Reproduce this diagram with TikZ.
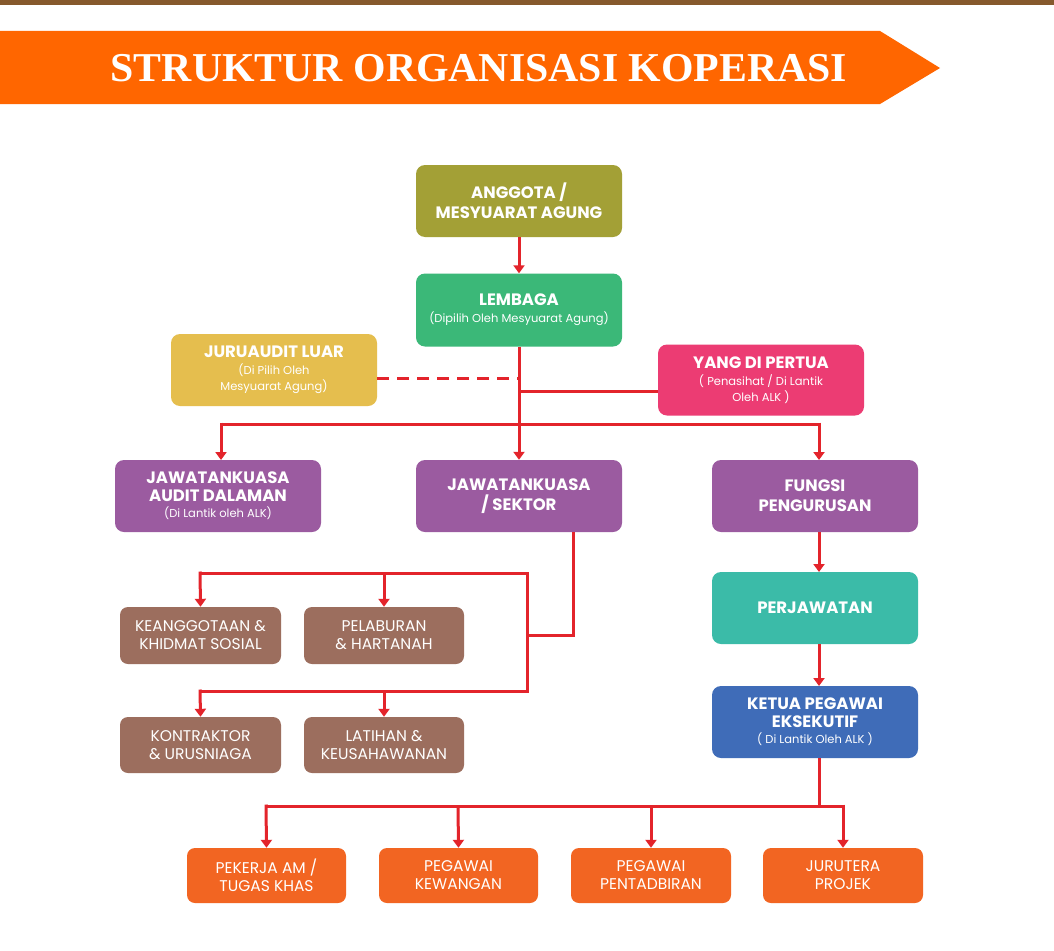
\documentclass[tikz,border=0pt]{standalone}
\usepackage{fontspec}
\setmainfont{Poppins}
\newfontfamily\titlefont{Liberation Serif}
\usetikzlibrary{arrows.meta}
\definecolor{lred}{HTML}{E3242B}
\definecolor{olive}{HTML}{A3A036}
\definecolor{cgreen}{HTML}{3BB878}
\definecolor{cyellow}{HTML}{E5BE4E}
\definecolor{cpink}{HTML}{EC3C73}
\definecolor{cpurple}{HTML}{9B5BA0}
\definecolor{cteal}{HTML}{3BBBA8}
\definecolor{cblue}{HTML}{3F6CB8}
\definecolor{cbrown}{HTML}{9C6E5E}
\definecolor{corange}{HTML}{F26522}
\definecolor{banner}{HTML}{FF6600}
\newcommand\sbt{\fontsize{11.5}{13}\selectfont\mdseries}
\begin{document}
\begin{tikzpicture}[x=1pt,y=-1pt,
  box/.style={rounded corners=9pt,text=white,align=center,inner sep=0pt,font=\fontsize{16.5}{20}\selectfont\bfseries},
  sbox/.style={rounded corners=8pt,text=white,align=center,inner sep=0pt,font=\fontsize{15.5}{18}\selectfont},
  ln/.style={draw=lred,line width=3pt},
  ar/.style={ln,-{Triangle[width=11pt,length=8pt]}}]
\useasboundingbox (0,0) rectangle (1054,950);
\fill[white] (0,0) rectangle (1054,950);
\fill[brown!70!black] (0,0) rectangle (1054,5);
\fill[banner] (0,31) -- (880,31) -- (940,68) -- (880,104) -- (0,104) -- cycle;
\node[text=white,font=\titlefont\bfseries\fontsize{41}{44}\selectfont,xscale=1.02] (title) at (479,68) {STRUKTUR ORGANISASI KOPERASI};
\node[box,fill=olive,minimum width=206pt,minimum height=72pt] (ang) at (519,201) {ANGGOTA /\\MESYUARAT AGUNG};
\node[box,fill=cgreen,minimum width=206pt,minimum height=73pt] (lem) at (519,310) {LEMBAGA\\[-3pt]{\sbt(Dipilih Oleh Mesyuarat Agung)}};
\node[box,fill=cyellow,minimum width=206pt,minimum height=72pt] (jur) at (274,370) {JURUAUDIT LUAR\\[-3pt]{\sbt(Di Pilih Oleh}\\[-4pt]{\sbt Mesyuarat Agung)}};
\node[box,fill=cpink,minimum width=206pt,minimum height=71pt] (ydp) at (761,380) {YANG DI PERTUA\\[-3pt]{\sbt( Penasihat / Di Lantik}\\[-4pt]{\sbt Oleh ALK )}};
\node[box,fill=cpurple,minimum width=206pt,minimum height=72pt] (jad) at (218,496) {JAWATANKUASA\\[-2pt]AUDIT DALAMAN\\[-4pt]{\sbt(Di Lantik oleh ALK)}};
\node[box,fill=cpurple,minimum width=206pt,minimum height=72pt] (sek) at (519,496) {JAWATANKUASA\\/ SEKTOR};
\node[box,fill=cpurple,minimum width=206pt,minimum height=72pt] (fun) at (815,496) {FUNGSI\\PENGURUSAN};
\node[box,fill=cteal,minimum width=206pt,minimum height=72pt] (per) at (815,608) {PERJAWATAN};
\node[box,fill=cblue,minimum width=206pt,minimum height=72pt] (ket) at (815,722) {KETUA PEGAWAI\\[-2pt]EKSEKUTIF\\[-4pt]{\sbt( Di Lantik Oleh ALK )}};
\node[sbox,fill=cbrown,minimum width=161pt,minimum height=57pt] (kea) at (200.5,635.5) {KEANGGOTAAN \&\\KHIDMAT SOSIAL};
\node[sbox,fill=cbrown,minimum width=160pt,minimum height=57pt] (pel) at (384,635.5) {PELABURAN\\\& HARTANAH};
\node[sbox,fill=cbrown,minimum width=161pt,minimum height=56pt] (kon) at (200.5,745) {KONTRAKTOR\\\& URUSNIAGA};
\node[sbox,fill=cbrown,minimum width=160pt,minimum height=56pt] (lat) at (384,745) {LATIHAN \&\\KEUSAHAWANAN};
\node[sbox,fill=corange,minimum width=159pt,minimum height=55pt] (o1) at (266.5,875.5) {PEKERJA AM /\\TUGAS KHAS};
\node[sbox,fill=corange,minimum width=159pt,minimum height=55pt] (o2) at (458.5,875.5) {PEGAWAI\\KEWANGAN};
\node[sbox,fill=corange,minimum width=160pt,minimum height=55pt] (o3) at (651,875.5) {PEGAWAI\\PENTADBIRAN};
\node[sbox,fill=corange,minimum width=160pt,minimum height=55pt] (o4) at (843,875.5) {JURUTERA\\PROJEK};
% connectors
\draw[ar] (ang) -- (lem);
\coordinate (bus) at (519,424);
\draw[ln] (lem.south) -- (bus);
\draw[ln,dash pattern=on 12pt off 8pt] (jur.east|-0,378) -- (519,378);
\draw[ln] (519,391) -- (ydp.west|-0,391);
\draw[ln] (221,424) -- (819,424);
\draw[ar] (221,422.5) -- (221,460);
\draw[ar] (bus) -- (sek.north);
\draw[ar] (819,422.5) -- (819,460);
\draw[ar] (819,532) -- (819,572);
\draw[ar] (819,644) -- (819,686);
% sector tree
\draw[ln] (573,532) -- (573,635) -- (527,635);
\draw[ln] (200,573) -- (527,573) -- (527,691) -- (200,691);
\draw[ar] (200,571.5) -- (kea.north);
\draw[ar] (384,573) -- (pel.north);
\draw[ar] (200,689.5) -- (kon.north);
\draw[ar] (384,691) -- (lat.north);
% bottom
\draw[ln] (819,758) -- (819,806);
\draw[ln] (266,806) -- (843,806);
\draw[ar] (266,804.5) -- (o1.north);
\draw[ar] (458,806) -- (o2.north);
\draw[ar] (651,806) -- (o3.north);
\draw[ar] (843,804.5) -- (o4.north);
\end{tikzpicture}
\end{document}
